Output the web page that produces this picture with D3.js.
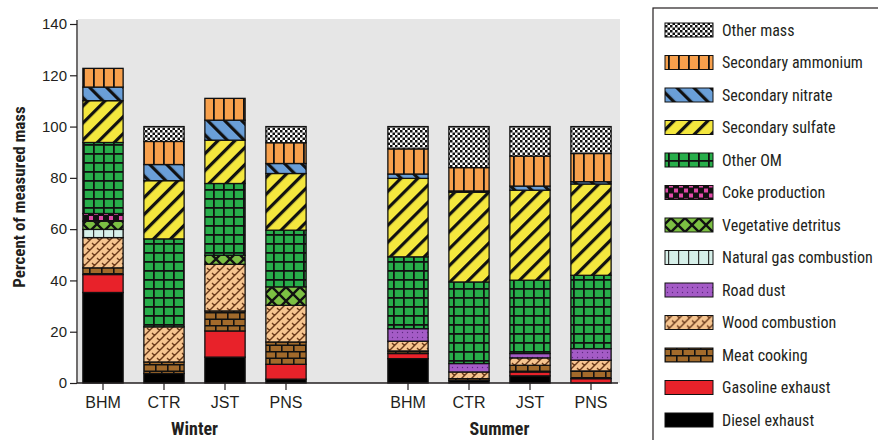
<!DOCTYPE html>
<html>
<head>
<meta charset="utf-8">
<script src="https://cdn.jsdelivr.net/npm/d3@7"></script>
<style>
  html, body { margin: 0; padding: 0; background: #fff; }
  svg { display: block; }
  text { font-family: "Liberation Sans Narrow", "Arial Narrow", "Roboto Condensed", sans-serif; fill: #231f20; }
</style>
</head>
<body>
<svg id="chart" width="878" height="440"></svg>
<script>
// Seasons and monitoring sites
const seasons = ["Winter", "Summer"];
const sites = ["BHM", "CTR", "JST", "PNS"];
const yTicks = [0, 20, 40, 60, 80, 100, 120, 140];

// Source contributions, percent of measured mass.
// Order: Winter BHM, CTR, JST, PNS, then Summer BHM, CTR, JST, PNS
const dieselExhaust   = [35.3, 3.7, 10.1, 1.5, 9.5, 1.0, 2.8, 0.0];
const gasolineExhaust = [7.0, 0.0, 10.2, 5.8, 2.0, 0.0, 1.5, 1.7];
const meatCooking     = [2.6, 4.5, 7.8, 8.7, 1.0, 0.7, 2.6, 3.0];
const woodCombustion  = [11.8, 13.7, 18.2, 14.3, 3.8, 2.6, 2.9, 4.2];
const roadDust        = [0.0, 0.0, 0.0, 0.0, 4.9, 3.3, 1.7, 4.5];
const naturalGas      = [3.2, 0.0, 0.0, 0.0, 0.0, 0.0, 0.0, 0.0];
const vegDetritus     = [3.2, 0.0, 3.5, 7.2, 0.0, 0.0, 0.0, 0.0];
const cokeProduction  = [3.0, 0.0, 0.0, 0.0, 0.0, 0.0, 0.0, 0.0];
const otherOM         = [27.7, 34.3, 28.0, 22.1, 28.0, 31.8, 28.6, 28.6];
const secSulfate      = [16.3, 22.7, 16.9, 22.1, 30.6, 35.0, 35.1, 35.6];
const secNitrate      = [5.3, 6.3, 7.8, 3.9, 1.7, 0.5, 1.6, 0.9];
const secAmmonium     = [7.3, 9.0, 8.5, 8.1, 9.8, 9.1, 11.7, 11.0];
const otherMass       = [0.0, 5.8, 0.0, 6.3, 8.7, 16.0, 11.5, 10.5];

// Stack order, bottom to top
const sources = [
  { name: "Diesel exhaust",         values: dieselExhaust,   fill: "#000000" },
  { name: "Gasoline exhaust",       values: gasolineExhaust, fill: "#e8222a" },
  { name: "Meat cooking",           values: meatCooking,     fill: "url(#p-meat)" },
  { name: "Wood combustion",        values: woodCombustion,  fill: "url(#p-wood)" },
  { name: "Road dust",              values: roadDust,        fill: "url(#p-road)" },
  { name: "Natural gas combustion", values: naturalGas,      fill: "url(#p-natgas)" },
  { name: "Vegetative detritus",    values: vegDetritus,     fill: "url(#p-veg)" },
  { name: "Coke production",        values: cokeProduction,  fill: "url(#p-coke)" },
  { name: "Other OM",               values: otherOM,         fill: "url(#p-om)" },
  { name: "Secondary sulfate",      values: secSulfate,      fill: "url(#p-sulfate)" },
  { name: "Secondary nitrate",      values: secNitrate,      fill: "url(#p-nitrate)" },
  { name: "Secondary ammonium",     values: secAmmonium,     fill: "url(#p-ammonium)" },
  { name: "Other mass",             values: otherMass,       fill: "url(#p-other)" }
];

const svg = d3.select("#chart");
const defs = svg.append("defs");
const FONT = "'Liberation Sans Narrow', 'Arial Narrow', sans-serif";

// ---- fill patterns ----
function pattern(id, w, h, opts = {}) {
  const p = defs.append("pattern")
    .attr("id", id)
    .attr("patternUnits", "userSpaceOnUse")
    .attr("width", w).attr("height", h)
    .attr("x", opts.x || 0).attr("y", opts.y || 0);
  if (opts.transform) p.attr("patternTransform", opts.transform);
  if (opts.bg) p.append("rect").attr("width", w).attr("height", h).attr("fill", opts.bg);
  return p;
}
const barX0 = 83;

// Other mass: fine black/white checkerboard
{
  const p = pattern("p-other", 5, 5, { bg: "#ffffff" });
  p.append("rect").attr("x", 0).attr("y", 0).attr("width", 2.5).attr("height", 2.5).attr("fill", "#111");
  p.append("rect").attr("x", 2.5).attr("y", 2.5).attr("width", 2.5).attr("height", 2.5).attr("fill", "#111");
}
// Secondary ammonium: orange with vertical lines
{
  const p = pattern("p-ammonium", 10, 10, { bg: "#f7a04c", x: barX0 });
  p.append("rect").attr("x", 0).attr("y", 0).attr("width", 1.8).attr("height", 10).attr("fill", "#111");
}
// Secondary nitrate: blue with "\" stripes
{
  const p = pattern("p-nitrate", 12, 12, { bg: "#6a9fd8", transform: "rotate(-45)" });
  p.append("rect").attr("x", 0).attr("y", 0).attr("width", 3.2).attr("height", 12).attr("fill", "#111");
}
// Secondary sulfate: yellow with "/" stripes
{
  const p = pattern("p-sulfate", 12, 12, { bg: "#f4e73e", transform: "rotate(45)" });
  p.append("rect").attr("x", 0).attr("y", 0).attr("width", 3.2).attr("height", 12).attr("fill", "#111");
}
// Other OM: green grid
{
  const p = pattern("p-om", 10, 9, { bg: "#27ae4a", x: barX0 });
  p.append("rect").attr("x", 0).attr("y", 0).attr("width", 1.8).attr("height", 9).attr("fill", "#111");
  p.append("rect").attr("x", 0).attr("y", 0).attr("width", 10).attr("height", 1.8).attr("fill", "#111");
}
// Coke production: magenta/black checks
{
  const p = pattern("p-coke", 10, 10, { bg: "#111", x: barX0 });
  p.append("rect").attr("x", 1).attr("y", 1).attr("width", 4).attr("height", 4).attr("fill", "#e04aa8");
  p.append("rect").attr("x", 6).attr("y", 6).attr("width", 4).attr("height", 4).attr("fill", "#e04aa8");
}
// Vegetative detritus: light green with crossing diagonals
{
  const p = pattern("p-veg", 14, 14, { bg: "#7cc043", x: barX0 });
  p.append("path").attr("d", "M0,0L14,14M14,0L0,14").attr("stroke", "#111").attr("stroke-width", 2.4);
}
// Natural gas combustion: pale cyan with vertical lines
{
  const p = pattern("p-natgas", 10, 10, { bg: "#d6efe9", x: barX0 });
  p.append("rect").attr("x", 0).attr("y", 0).attr("width", 1.2).attr("height", 10).attr("fill", "#333");
}
// Road dust: purple with dotted rows
{
  const p = pattern("p-road", 5, 5, { bg: "#a45bc6" });
  p.append("circle").attr("cx", 2.5).attr("cy", 2.5).attr("r", 0.7).attr("fill", "#5e2a80");
}
// Wood combustion: tan basket weave
{
  const p = pattern("p-wood", 10, 10, { bg: "#f6c590" });
  p.append("path")
    .attr("d", "M0,10L10,0M-5,5L5,-5M5,15L15,5M2,3L5,6M7,8L10,11M-3,8L0,11M7,-2L10,1")
    .attr("stroke", "#6a3a1a").attr("stroke-width", 1.4).attr("fill", "none");
}
// Meat cooking: brown brick
{
  const p = pattern("p-meat", 12, 13, { bg: "#a26a2b", x: barX0 });
  p.append("path")
    .attr("d", "M0,0.8H12M0,7.3H12M0.8,0V7.3M6.8,7.3V13")
    .attr("stroke", "#111").attr("stroke-width", 1.6).attr("fill", "none");
}

// ---- scales ----
const y = d3.scaleLinear().domain([0, 140]).range([383, 24]);
const outer = d3.scaleBand().domain(seasons).range([72.5, 621.5]).paddingInner(0.2).paddingOuter(0);
const inner = d3.scaleBand().domain(sites).range([0, outer.bandwidth()]).paddingInner(0.34).paddingOuter(0.17);

// plot background
svg.append("rect")
  .attr("x", 78).attr("y", 19).attr("width", 542).attr("height", y(0) - 19)
  .attr("fill", "#e6e6e6");

// ---- bars ----
const barData = [];
seasons.forEach((season, si) => {
  sites.forEach((site, ci) => {
    const idx = si * sites.length + ci;
    let base = 0;
    sources.forEach(src => {
      const v = src.values[idx];
      if (v > 0) {
        barData.push({ season, site, source: src, y0: base, y1: base + v });
      }
      base += v;
    });
  });
});

svg.append("g").selectAll("rect")
  .data(barData)
  .join("rect")
  .attr("x", d => outer(d.season) + inner(d.site))
  .attr("width", inner.bandwidth())
  .attr("y", d => y(d.y1))
  .attr("height", d => y(d.y0) - y(d.y1))
  .attr("fill", d => d.source.fill)
  .attr("stroke", "#111")
  .attr("stroke-width", 1.3);

// ---- axes ----
const yAxis = svg.append("g")
  .attr("transform", "translate(77,0)")
  .call(d3.axisLeft(y).tickValues(yTicks).tickSize(7).tickSizeOuter(0).tickPadding(3));
yAxis.select(".domain").attr("stroke", "#231f20").attr("stroke-width", 1.3)
  .attr("d", `M0,${y(0)}V${y(140) - 4}`);
yAxis.selectAll(".tick line").attr("stroke", "#231f20").attr("stroke-width", 1.2);
yAxis.selectAll(".tick text").attr("font-size", 15).attr("fill", "#231f20")
  .style("font-family", FONT);

// baseline
svg.append("line")
  .attr("x1", 77).attr("x2", 618).attr("y1", y(0)).attr("y2", y(0))
  .attr("stroke", "#231f20").attr("stroke-width", 1.3);

seasons.forEach(season => {
  const g = svg.append("g")
    .attr("transform", `translate(${outer(season)},${y(0)})`)
    .call(d3.axisBottom(inner).tickSize(7).tickSizeOuter(0).tickPadding(7));
  g.select(".domain").remove();
  g.selectAll(".tick line").attr("stroke", "#231f20").attr("stroke-width", 1.2);
  g.selectAll(".tick text").attr("font-size", 16).attr("fill", "#231f20")
    .style("font-family", FONT);

  svg.append("text")
    .attr("x", outer(season) + outer.bandwidth() / 2)
    .attr("y", 435)
    .attr("text-anchor", "middle")
    .attr("font-size", 18).attr("font-weight", "bold")
    .text(season);
});

// y-axis title
svg.append("text")
  .attr("transform", "translate(25,197) rotate(-90)")
  .attr("text-anchor", "middle")
  .attr("font-size", 17).attr("font-weight", "bold")
  .text("Percent of measured mass");

// ---- legend ----
svg.append("rect")
  .attr("x", 653).attr("y", 8).attr("width", 300).attr("height", 500)
  .attr("fill", "#fff").attr("stroke", "#231f20").attr("stroke-width", 1.2);

const legendItems = sources.slice().reverse();
const lg = svg.append("g").selectAll("g")
  .data(legendItems)
  .join("g")
  .attr("transform", (d, i) => `translate(665,${30 + i * 32.5})`);
lg.append("rect")
  .attr("x", 0).attr("y", -7).attr("width", 48).attr("height", 14)
  .attr("fill", d => d.fill)
  .attr("stroke", "#111").attr("stroke-width", 1);
lg.append("text")
  .attr("x", 57).attr("y", 0).attr("dy", "0.35em")
  .attr("font-size", 16)
  .text(d => d.name);
</script>
</body>
</html>
